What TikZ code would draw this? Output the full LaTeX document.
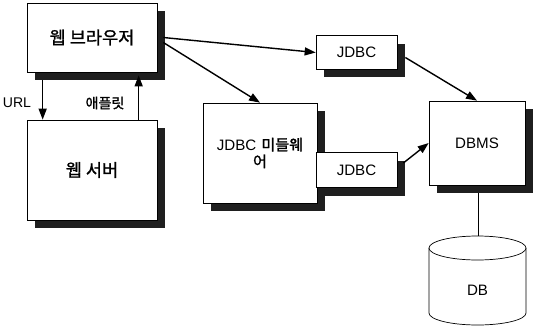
\documentclass[tikz,border=0pt]{standalone}
\usepackage{fontspec}
\setmainfont{Liberation Sans}
\newfontfamily\kr[FakeBold=1.2]{Noto Sans CJK KR}
\usepackage{tikz}
\usetikzlibrary{arrows.meta, calc, shadows}

\begin{document}
\begin{tikzpicture}[x=0.02cm, y=-0.02cm,
      box/.style={rectangle, draw, thin, fill=white, inner sep=1pt, align=center,
        font=\fontsize{8.6}{10.5}\selectfont,
        drop shadow={shadow xshift=0.16cm, shadow yshift=-0.16cm, fill=black!88, opacity=1}},
      lbl/.style={inner sep=0pt, font=\fontsize{8}{9.5}\selectfont},
      arr/.style={-{Triangle[length=2.2mm, width=1.6mm]}, thick},
    ]
    \useasboundingbox (0,0) rectangle (533,335);

    \node[box, minimum width=2.6cm, minimum height=1.38cm] (browser) at (92,37.5) {{\kr\fontsize{10}{12}\selectfont 웹 브라우저}};
    \node[box, minimum width=2.6cm, minimum height=2cm] (server) at (92,170) {{\kr\fontsize{10}{12}\selectfont 웹 서버}};
    \node[box, minimum width=2.28cm, minimum height=2cm, text width=2.1cm] (mw) at (260,153) {JDBC {\kr 미들웨}\\[-1pt]{\kr 어}};
    \node[box, minimum width=1.62cm, minimum height=0.68cm] (jdbcA) at (356.5,52.5) {JDBC};
    \node[box, minimum width=1.62cm, minimum height=0.7cm] (jdbcB) at (356.5,170) {JDBC};
    \node[box, minimum width=1.92cm, minimum height=1.68cm] (dbms) at (477,143) {DBMS};

    % database drum
    \draw[thin, fill=white] (429,248) -- (429,313) arc[start angle=180, end angle=0, x radius=48.5, y radius=12] -- (526,248);
    \draw[thin, fill=white] (477.5,248) ellipse [x radius=48.5, y radius=12];
    \coordinate (dbtop) at (478,236);
    \node[lbl, font=\fontsize{8.6}{10.5}\selectfont] (db) at (477.5,290) {DB};

    \coordinate (url0) at ($(browser.south west)+(16,8)$);
    \coordinate (url1) at ($(server.north west)+(16,0)$);
    \coordinate (app0) at ($(server.north west)+(112,0)$);
    \coordinate (app1) at ($(browser.south west)+(112,3)$);

    \draw[arr] (url0) -- (url1);
    \draw[arr] (app0) -- (app1);
    \node[lbl] (urltxt) at (17,103) {URL};
    \node[lbl] (applet) at (105,103) {\kr 애플릿};

    \draw[arr] ($(browser.east)+(6,0)$) -- (jdbcA.west);
    \draw[arr] ($(browser.east)+(6,5)$) -- (mw.north);
    \draw[arr] ($(jdbcA.east)+(8,5)$) -- (dbms.north);
    \draw[arr] ($(jdbcB.east)+(6,-7)$) -- (dbms.west);
    \draw[thin] ($(dbms.south)+(1,8)$) -- (dbtop);
  \end{tikzpicture}
\end{document}
